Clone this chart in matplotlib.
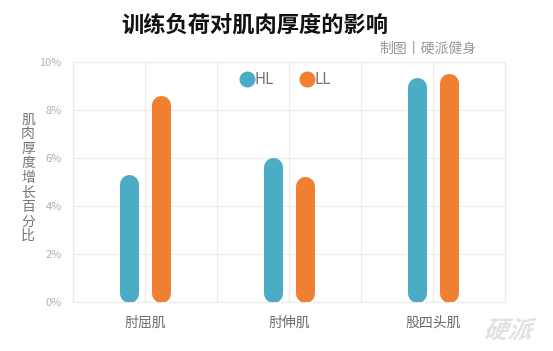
import matplotlib
matplotlib.use("Agg")
import matplotlib.pyplot as plt
import numpy as np
from matplotlib.textpath import TextPath
from matplotlib.patches import PathPatch
from matplotlib.font_manager import FontProperties
from matplotlib.transforms import Affine2D

plt.rcParams['font.family'] = ['Noto Sans CJK SC', 'DejaVu Sans']

categories = ['肘屈肌', '肘伸肌', '股四头肌']
series_names = ['HL', 'LL']
hl_values = [5.3, 6.0, 9.35]
ll_values = [8.6, 5.2, 9.5]
y_ticks = [0, 2, 4, 6, 8, 10]
y_tick_labels = ['0%', '2%', '4%', '6%', '8%', '10%']
colors = ['#4BACC6', '#F0802F']

W, H = 553, 351
fig = plt.figure(figsize=(W / 100, H / 100), dpi=100)
fig.patch.set_facecolor('white')
ax = fig.add_axes([73 / W, 1 - 302 / H, (505 - 73) / W, (302 - 61.5) / H])
ax.set_xlim(-0.5, 2.5)
ax.set_ylim(0, 10)

grid_c = '#ececec'
for s in ax.spines.values():
    s.set_color(grid_c)
    s.set_linewidth(0.8)
ax.set_yticks(y_ticks)
ax.set_yticklabels(y_tick_labels, color='#b0b0b0', fontsize=8)
ax.set_xticks(range(len(categories)))
ax.set_xticklabels(categories, color='#6a6a6a', fontsize=10, fontweight='light')
ax.tick_params(length=0, pad=8)
ax.tick_params(axis='x', pad=10)
for y in y_ticks:
    ax.axhline(y, color=grid_c, lw=0.8, zorder=0)
for x in [-0.5, 0, 0.5, 1, 1.5, 2, 2.5]:
    ax.axvline(x, color=grid_c, lw=0.8, zorder=0)

# rounded bars: thick lines with round caps, ends shifted inward by cap radius
bar_px = 19
fig.canvas.draw()
px_per_unit = ax.transData.transform((0, 1))[1] - ax.transData.transform((0, 0))[1]
r = (bar_px / 2) / px_per_unit
lw_pt = bar_px * 72 / 100
offset = 0.108
xs = np.arange(len(categories))
for vals, col, off in [(hl_values, colors[0], -offset), (ll_values, colors[1], offset)]:
    for x, v in zip(xs, vals):
        ax.plot([x + off, x + off], [r, v - r], color=col, lw=lw_pt,
                solid_capstyle='round', zorder=3)

# legend
for i, (name, col) in enumerate(zip(series_names, colors)):
    cx = 247 + i * 60
    fig.add_artist(matplotlib.lines.Line2D([cx / W], [1 - 79 / H], marker='o', markersize=10.5,
                                           color=col, linestyle='none', transform=fig.transFigure))
    fig.text((cx + 8) / W, 1 - 80 / H, name, color='#777777', fontsize=11, va='center', ha='left',
             fontweight='light')

# title and subtitle
fig.text(255 / W, 1 - 25 / H, '训练负荷对肌肉厚度的影响', fontsize=16, fontweight='bold',
         color='#111111', ha='center', va='center')
fig.text(477 / W, 1 - 49 / H, '制图丨硬派健身', fontsize=10, color='#999999', ha='right', va='center')

# vertical y label
fig.text(28 / W, 1 - 178 / H, '\n'.join('肌肉厚度增长百分比'), fontsize=10, color='#777777',
         ha='center', va='center', linespacing=1.05, fontweight='light')

# watermark
fp = FontProperties(family='Noto Sans CJK SC', weight='bold')
tp = TextPath((0, 0), '硬派', size=24, prop=fp)
tr = Affine2D().skew_deg(22, 0).translate(483, 351 - 338)
patch = PathPatch(tr.transform_path(tp), facecolor='#e2e2e2', edgecolor='none',
                  transform=Affine2D().scale(1 / W, 1 / H) + fig.transFigure)
fig.add_artist(patch)

fig.savefig('out.png', dpi=100, facecolor='white')
